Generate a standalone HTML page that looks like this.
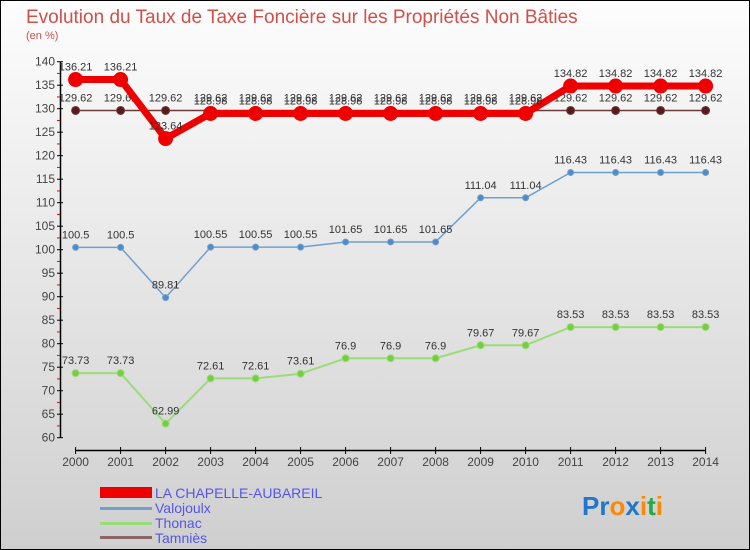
<!DOCTYPE html>
<html><head><meta charset="utf-8"><style>
body{margin:0;width:750px;height:550px;overflow:hidden;font-family:"Liberation Sans",sans-serif}
svg{display:block}
</style></head><body>
<svg id="c" width="750" height="550">
<defs><linearGradient id="bg" x1="0" y1="0" x2="0" y2="1"><stop offset="0" stop-color="#fdfdfd"/><stop offset="1" stop-color="#cfcfcf"/></linearGradient></defs>
<rect x="0.5" y="0.5" width="749" height="549" fill="url(#bg)" stroke="#000"/>
<text x="26" y="23" font-size="19" fill="#d0504a">Evolution du Taux de Taxe Foncière sur les Propriétés Non Bâties</text>
<text x="26" y="39" font-size="11" fill="#d0504a">(en %)</text>
<g id="axes"></g><g id="series"></g>
<g>
<rect x="100" y="487" width="52" height="11" fill="#e00"/>
<text x="155" y="498" font-size="14" fill="#5555ee">LA CHAPELLE-AUBAREIL</text>
<rect x="100" y="507" width="52" height="3" fill="#6fa0cc"/>
<text x="155" y="513" font-size="14" fill="#5555ee">Valojoulx</text>
<rect x="100" y="522" width="52" height="3" fill="#99dd77"/>
<text x="155" y="528" font-size="14" fill="#5555ee">Thonac</text>
<rect x="100" y="536" width="52" height="3" fill="#8a6666"/>
<text x="155" y="543" font-size="14" fill="#5555ee">Tamniès</text>
</g>
<g font-size="26" font-weight="bold">
<text x="582" y="515"><tspan fill="#2277cc">Pr</tspan><tspan fill="#ff8800">o</tspan><tspan fill="#2277cc">x</tspan><tspan fill="#ff8800">i</tspan><tspan fill="#22aa44">t</tspan><tspan fill="#ff8800">i</tspan></text>
</g>
</svg>
<script>
const years=[2000,2001,2002,2003,2004,2005,2006,2007,2008,2009,2010,2011,2012,2013,2014];
const yTicks=[60,65,70,75,80,85,90,95,100,105,110,115,120,125,130,135,140];
const chapelle=[136.21,136.21,123.64,128.98,128.98,128.98,128.98,128.98,128.98,128.98,128.98,134.82,134.82,134.82,134.82];
const valojoulx=[100.5,100.5,89.81,100.55,100.55,100.55,101.65,101.65,101.65,111.04,111.04,116.43,116.43,116.43,116.43];
const thonac=[73.73,73.73,62.99,72.61,72.61,73.61,76.9,76.9,76.9,79.67,79.67,83.53,83.53,83.53,83.53];
const tamnies=[129.62,129.62,129.62,129.62,129.62,129.62,129.62,129.62,129.62,129.62,129.62,129.62,129.62,129.62,129.62];
const NS="http://www.w3.org/2000/svg";
const X=i=>75.6+i*45.0;
const Y=v=>437.7-(v-60)*(376/80);
function mk(t,a,p){const e=document.createElementNS(NS,t);for(const k in a)e.setAttribute(k,a[k]);p.appendChild(e);return e;}
const ax=document.getElementById('axes');
let l=mk('line',{x1:60.5,y1:Y(140),x2:60.5,y2:Y(60),stroke:'#000','stroke-width':1.5},ax);


yTicks.forEach(v=>{
 mk('line',{x1:57,y1:Y(v),x2:63,y2:Y(v),stroke:'#000'},ax);
 if(v<140) mk('line',{x1:57,y1:Y(v+2.5),x2:60,y2:Y(v+2.5),stroke:'#e00'},ax);
 const t=mk('text',{x:55,y:Y(v)+4,'font-size':12,fill:'#444','text-anchor':'end'},ax);t.textContent=v;
 
 
});
l=mk('line',{x1:X(0),y1:450.5,x2:X(14),y2:450.5,stroke:'#000','stroke-width':1.5},ax);


years.forEach((y,i)=>{
 mk('line',{x1:X(i),y1:447,x2:X(i),y2:454,stroke:'#000'},ax);
 const t=mk('text',{x:X(i),y:466,'font-size':12,fill:'#444','text-anchor':'middle'},ax);t.textContent=y;
 
 
});
const sg=document.getElementById('series');
function series(name,vals,color,w,r,dot){
 const g=mk('g',{},sg);
 
 
 const p=mk('polyline',{points:vals.map((v,i)=>X(i)+','+Y(v)).join(' '),fill:'none',stroke:color,'stroke-width':w,'stroke-linejoin':'round'},g);
 
 
 vals.forEach((v,i)=>{
  const c=mk('circle',{cx:X(i),cy:Y(v),r:r,fill:dot,stroke:color},g);
  
  
  const t=mk('text',{x:X(i),y:Y(v)-9,'font-size':11,fill:'#333','text-anchor':'middle'},g);t.textContent=v;
  
  
 });
}
series('tamnies',tamnies,'#6b3a3a',1.5,4,'#5a1a1a');
series('thonac',thonac,'#99dd77',2,3.5,'#77cc44');
series('valojoulx',valojoulx,'#6fa0cc',1.5,3,'#4d8cc8');
series('chapelle',chapelle,'#ee0000',7,7,'#ee0000');
</script>
</body></html>
